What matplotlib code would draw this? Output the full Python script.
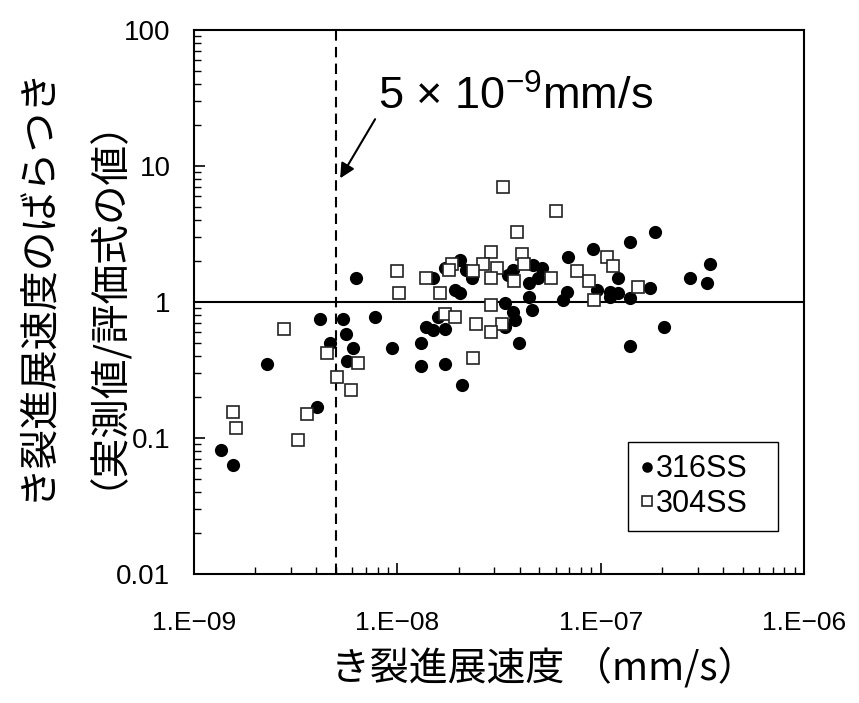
import matplotlib
matplotlib.use('Agg')
import matplotlib.pyplot as plt
from matplotlib.ticker import LogLocator, FixedLocator, NullFormatter

plt.rcParams['font.family'] = ['Liberation Sans', 'Noto Sans CJK JP', 'DejaVu Sans']
plt.rcParams['mathtext.default'] = 'regular'
jp = ['Noto Sans CJK JP', 'DejaVu Sans']

# ---- data
ss316_rate = [6.27e-9, 4.17e-9, 5.42e-9, 7.77e-9, 5.59e-9, 4.67e-9, 6.08e-9, 9.38e-9,
              2.28e-9, 5.64e-9, 4.04e-9, 1.36e-9, 1.56e-9, 2.03e-8, 1.72e-8, 1.50e-8,
              2.18e-8, 2.32e-8, 1.92e-8, 2.03e-8, 3.72e-8, 3.52e-8, 4.67e-8, 5.13e-8,
              4.94e-8, 4.46e-8, 6.94e-8, 9.21e-8, 6.81e-8, 6.51e-8, 4.46e-8, 4.58e-8,
              3.39e-8, 3.70e-8, 3.79e-8, 3.39e-8, 1.39e-8, 1.50e-8, 1.72e-8, 1.59e-8,
              1.31e-8, 1.31e-8, 1.72e-8, 2.07e-8, 3.98e-8, 1.84e-7, 1.40e-7, 3.43e-7,
              2.75e-7, 3.33e-7, 1.22e-7, 1.75e-7, 9.57e-8, 1.11e-7, 1.22e-7, 1.11e-7,
              1.40e-7, 2.05e-7, 1.40e-7]
ss316_ratio = [1.49, 0.75, 0.75, 0.77, 0.58, 0.50, 0.46, 0.46,
               0.35, 0.37, 0.17, 0.082, 0.063, 2.04, 1.77, 1.49,
               1.72, 1.49, 1.22, 1.16, 1.72, 1.58, 1.87, 1.77,
               1.49, 1.37, 2.15, 2.44, 1.19, 1.03, 1.09, 0.87,
               0.99, 0.85, 0.74, 0.66, 0.66, 0.62, 0.63, 0.78,
               0.50, 0.34, 0.35, 0.245, 0.50, 3.25, 2.75, 1.90,
               1.49, 1.37, 1.49, 1.26, 1.22, 1.19, 1.16, 1.09,
               1.075, 0.66, 0.475]

ss304_rate = [9.93e-9, 1.02e-8, 2.76e-9, 4.49e-9, 6.43e-9, 5.03e-9, 5.92e-9, 1.56e-9,
              3.61e-9, 1.60e-9, 3.26e-9, 3.30e-8, 6.01e-8, 3.87e-8, 2.88e-8, 4.11e-8,
              1.85e-8, 1.80e-8, 2.65e-8, 3.10e-8, 4.20e-8, 2.36e-8, 1.38e-8, 2.88e-8,
              3.75e-8, 5.68e-8, 7.63e-8, 8.77e-8, 1.62e-8, 9.31e-8, 2.88e-8, 1.72e-8,
              1.92e-8, 2.44e-8, 3.29e-8, 2.88e-8, 2.36e-8, 1.07e-7, 1.15e-7, 1.52e-7]
ss304_ratio = [1.69, 1.17, 0.63, 0.42, 0.354, 0.28, 0.225, 0.156,
               0.150, 0.118, 0.097, 7.05, 4.69, 3.25, 2.34, 2.24,
               1.90, 1.72, 1.90, 1.77, 1.90, 1.69, 1.49, 1.49,
               1.43, 1.49, 1.69, 1.43, 1.17, 1.03, 0.95, 0.82,
               0.78, 0.69, 0.69, 0.605, 0.385, 2.15, 1.84, 1.28]

threshold = 5e-9
xticks = [1e-9, 1e-8, 1e-7, 1e-6]
xticklabels = ['1.E\u221209', '1.E\u221208', '1.E\u221207', '1.E\u221206']
yticks = [0.01, 0.1, 1, 10, 100]
yticklabels = ['0.01', '0.1', '1', '10', '100']

# ---- figure
fig = plt.figure(figsize=(8.59, 7.03), dpi=100)
ax = fig.add_axes([194 / 859, 129 / 703, 610 / 859, 544 / 703])
ax.set_xscale('log')
ax.set_yscale('log')
ax.set_xlim(1e-9, 1e-6)
ax.set_ylim(0.01, 100)

ax.plot(ss316_rate, ss316_ratio, 'o', color='black', ms=9.5, mew=0, zorder=3, label='316SS')
ax.plot(ss304_rate, ss304_ratio, 's', mfc='white', mec='#222222', ms=9, mew=1.2, zorder=4, label='304SS')

ax.axhline(1, color='black', lw=1.5, zorder=2)
ax.axvline(threshold, color='black', lw=1.5, ls=(0, (5, 3)), zorder=2)

# threshold label + arrow
ax.text(8.0e-9, 32, '5 \u00d7 10$^{\\mathregular{-9}}$mm/s', fontsize=32.5, ha='left', va='center')
ax.annotate('', xy=(5.15e-9, 7.8), xytext=(7.9e-9, 23),
            arrowprops=dict(arrowstyle='-|>', lw=1.5, color='black', mutation_scale=22))

for s in ax.spines.values():
    s.set_linewidth(1.5)

ax.xaxis.set_major_locator(FixedLocator(xticks))
ax.set_xticklabels(xticklabels)
ax.xaxis.set_minor_locator(LogLocator(base=10, subs=range(2, 10), numticks=20))
ax.xaxis.set_minor_formatter(NullFormatter())
ax.yaxis.set_major_locator(FixedLocator(yticks))
ax.set_yticklabels(yticklabels)
ax.yaxis.set_minor_locator(LogLocator(base=10, subs=range(2, 10), numticks=20))
ax.yaxis.set_minor_formatter(NullFormatter())

ax.tick_params(axis='both', which='both', direction='in', top=False, right=False)
ax.tick_params(axis='both', which='major', length=8, width=1.2)
ax.tick_params(axis='both', which='minor', length=5, width=1)
ax.tick_params(axis='x', which='major', labelsize=19, pad=27)
ax.tick_params(axis='y', which='major', labelsize=20, pad=17)

leg = ax.legend(loc='upper left', bbox_to_anchor=(0.7115, 0.077, 0.246, 0.1656),
                mode='expand', fontsize=22,
                handlelength=0.45, handletextpad=0.05, borderpad=0.4,
                labelspacing=0.15, fancybox=False, framealpha=1, borderaxespad=0,
                markerscale=0.8)
leg.get_frame().set_edgecolor('black')
leg.get_frame().set_linewidth(1.0)

fig.text(0.0419, 0.5975, 'き裂進展速度のばらつき', rotation=90, fontsize=28.5,
         ha='center', va='center', family=jp)
fig.text(0.100, 0.5975, '（実測値/評価式の値）', rotation=90, fontsize=28.5,
         ha='center', va='center', family=jp)
fig.text(0.633, 0.05, 'き裂進展速度 （mm/s）', fontsize=28,
         ha='center', va='center', family=jp)

fig.savefig('out.png', dpi=100)
